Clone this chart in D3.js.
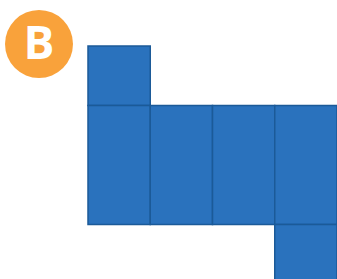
<!DOCTYPE html>
<html><head><meta charset="utf-8">
<script src="https://cdn.jsdelivr.net/npm/d3@7"></script>
<style>html,body{margin:0;padding:0;background:#fff;overflow:hidden}</style>
</head><body>
<svg id="c" width="337" height="279"></svg>
<script>
// Net cells: column, row (grid units), width, height
const cellCols = [0, 0, 1, 2, 3, 3];
const cellRows = [0, 1, 1, 1, 1, 3];
const cellWidths = [1, 1, 1, 1, 1, 1];
const cellHeights = [1, 2, 2, 2, 2, 1];
const badgeLabel = ["B"];

const svg = d3.select("#c");
const x = d3.scaleLinear().domain([0, 4]).range([88, 337]);
const y = d3.scaleLinear().domain([0, 4]).range([46, 284]);

const cells = cellCols.map((c, i) => ({c, r: cellRows[i], w: cellWidths[i], h: cellHeights[i]}));

svg.selectAll("rect.cell").data(cells).join("rect")
  .attr("class", "cell")
  .attr("x", d => x(d.c))
  .attr("y", d => y(d.r))
  .attr("width", d => x(d.c + d.w) - x(d.c))
  .attr("height", d => y(d.r + d.h) - y(d.r))
  .attr("fill", "#2a72bd")
  .attr("stroke", "#1b5a98")
  .attr("stroke-width", 1.5);

const g = svg.append("g").attr("transform", "translate(39,44)");
g.append("circle").attr("r", 34).attr("fill", "#f9a23b");
g.selectAll("text").data(badgeLabel).join("text")
  .attr("text-anchor", "middle")
  .attr("y", 15)
  .attr("font-family", "Open Sans, sans-serif")
  .attr("font-weight", 700)
  .attr("font-size", 46)
  .attr("fill", "#fff")
  .text(d => d);
</script>
</body></html>
